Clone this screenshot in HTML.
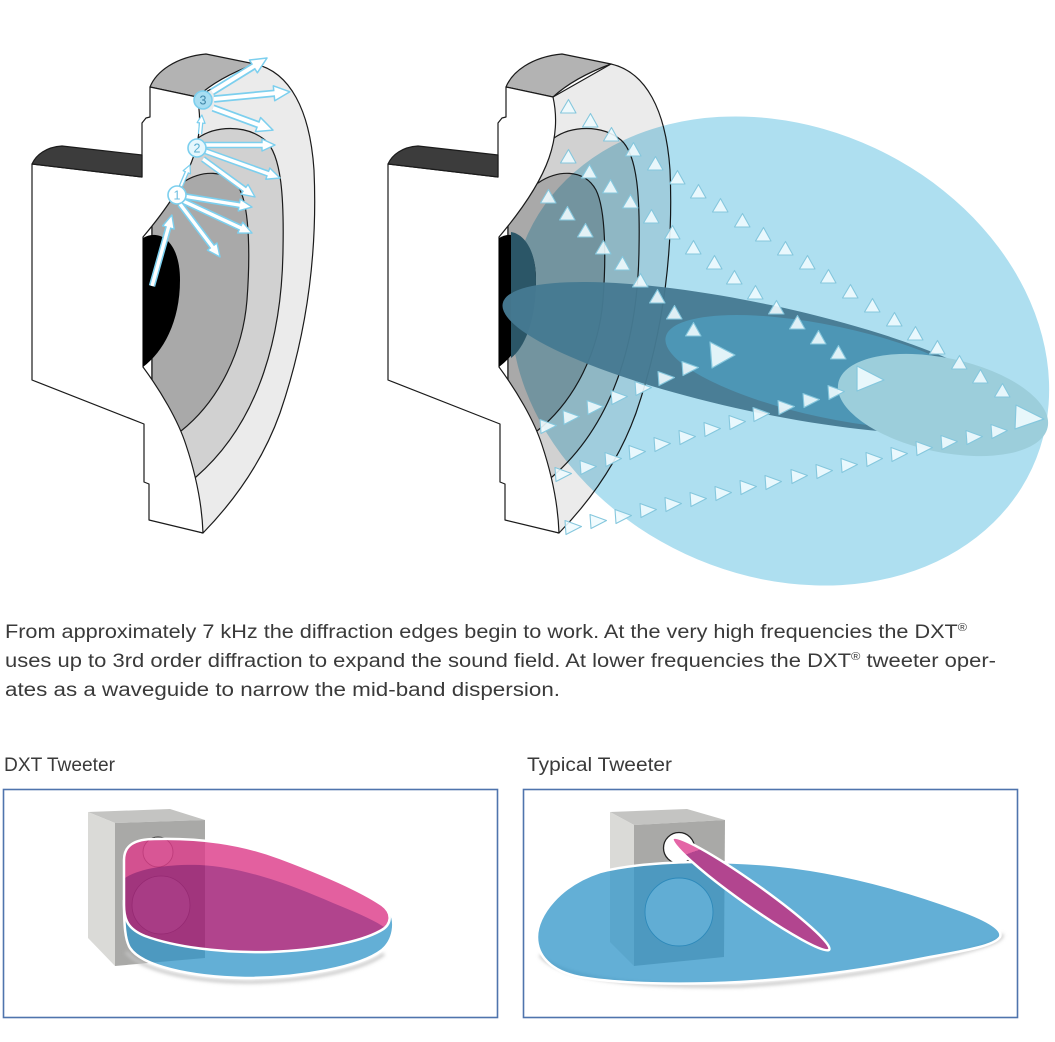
<!DOCTYPE html>
<html><head><meta charset="utf-8">
<style>
html,body{margin:0;padding:0;background:#fff;}
svg{display:block}
.ab{stroke:#7ccfee;stroke-linecap:butt}
.aw{stroke:#fff;stroke-linecap:butt}
.t{font-family:"Liberation Sans",Arial,sans-serif;fill:#3a3a3a}
</style></head>
<body>
<svg width="1055" height="1042" viewBox="0 0 1055 1042" xmlns="http://www.w3.org/2000/svg">
<defs>
<marker id="hL" viewBox="0 0 18 18" markerWidth="18" markerHeight="18" refX="1" refY="9" orient="auto" markerUnits="userSpaceOnUse"><path d="M1,1.5 L17,9 L1,16.5 Z" fill="#fff" stroke="#7ccfee" stroke-width="1.5" stroke-linejoin="round"/></marker>
<marker id="hM" viewBox="0 0 15 15" markerWidth="15" markerHeight="15" refX="1" refY="7.5" orient="auto" markerUnits="userSpaceOnUse"><path d="M1,1.5 L14,7.5 L1,13.5 Z" fill="#fff" stroke="#7ccfee" stroke-width="1.4" stroke-linejoin="round"/></marker>
<marker id="hS" viewBox="0 0 10 10" markerWidth="10" markerHeight="10" refX="1" refY="5" orient="auto" markerUnits="userSpaceOnUse"><path d="M1,1 L9,5 L1,9 Z" fill="#fff" stroke="#7ccfee" stroke-width="1.2" stroke-linejoin="round"/></marker>
<polygon id="tu" points="0.5,-7.5 8,6 -7.5,6" fill="#effbfe" fill-opacity="0.9" stroke="#85c7dd" stroke-width="1.1" stroke-linejoin="round"/>
<polygon id="tr" points="-7,-7.5 9.5,-1.5 -6,6.5" fill="#effbfe" fill-opacity="0.9" stroke="#85c7dd" stroke-width="1.1" stroke-linejoin="round"/>
<g id="tw" stroke="#1b1b1b" stroke-width="1.2" stroke-linejoin="round">
<path d="M197,97 L255,64 C290,72 310,110 314,170 C318,260 305,340 280,413 C265,455 240,495 203,533 L152,518 L152,102 Z" fill="#ebebeb"/>
<path d="M198,138 C215,126 245,124 265,140 C282,155 284,200 283,250 C282,330 262,420 196,477 L152,480 L152,140 Z" fill="#d1d1d1"/>
<path d="M182,183 C200,170 228,168 240,190 C250,210 250,260 247,300 C243,350 220,400 181,431 L152,432 L152,190 Z" fill="#a9a9a9"/>
<path d="M150,87 C156,72 175,57 206,54 L255,64 C228,74 210,85 197,97 Z" fill="#b3b3b3"/>
<path d="M150,87 L197,97 C201,115 201,135 193,158 C186,178 170,205 143,237 L143,367 C160,390 178,420 186,445 C196,475 202,505 203,533 L149,520 L149,484 L144,482 L144,424 L32,380 L32,164 L142,177 L142,123 L146,118 L150,117 Z" fill="#fff"/>
<path d="M32,164 C36,155 46,147 62,146 L142,155 L142,177 Z" fill="#3c3c3c"/>
<path d="M143,238 C160,228 180,242 180,280 C180,322 163,352 143,367 Z" fill="#000" stroke="none"/>
</g>
<linearGradient id="ng" gradientUnits="userSpaceOnUse" x1="674" y1="839" x2="828" y2="949">
<stop offset="0" stop-color="#e465a6"/><stop offset="0.19" stop-color="#e465a6"/><stop offset="0.19" stop-color="#b2458f"/><stop offset="1" stop-color="#b2458f"/>
</linearGradient>
<filter id="bl" x="-10%" y="-50%" width="120%" height="200%"><feGaussianBlur stdDeviation="1.8"/></filter>
</defs>

<rect width="1055" height="1042" fill="#fff"/>

<!-- LEFT TWEETER -->
<use href="#tw"/>

<g fill="none">
<line x1="212" y1="92" x2="253.4" y2="66.4" class="ab" stroke-width="7.5" marker-end="url(#hL)"/><line x1="212" y1="92" x2="256" y2="64.8" class="aw" stroke-width="4"/>
<line x1="214" y1="99" x2="274" y2="93.3" class="ab" stroke-width="7.5" marker-end="url(#hL)"/><line x1="214" y1="99" x2="277" y2="93" class="aw" stroke-width="4"/>
<line x1="213" y1="108" x2="258" y2="124.6" class="ab" stroke-width="7.5" marker-end="url(#hL)"/><line x1="213" y1="108" x2="260.8" y2="125.6" class="aw" stroke-width="4"/>
<line x1="205" y1="145" x2="262" y2="145" class="ab" stroke-width="6.5" marker-end="url(#hM)"/><line x1="205" y1="145" x2="265" y2="145" class="aw" stroke-width="3.4"/>
<line x1="205" y1="151" x2="267.8" y2="173.6" class="ab" stroke-width="6.5" marker-end="url(#hM)"/><line x1="205" y1="151" x2="270.6" y2="174.6" class="aw" stroke-width="3.4"/>
<line x1="203" y1="159" x2="244.5" y2="189.3" class="ab" stroke-width="6.5" marker-end="url(#hM)"/><line x1="203" y1="159" x2="246.9" y2="191.1" class="aw" stroke-width="3.4"/>
<line x1="183" y1="196" x2="239.2" y2="205" class="ab" stroke-width="6.5" marker-end="url(#hM)"/><line x1="183" y1="196" x2="242.2" y2="205.5" class="aw" stroke-width="3.4"/>
<line x1="183" y1="201" x2="240.2" y2="227.6" class="ab" stroke-width="6.5" marker-end="url(#hM)"/><line x1="183" y1="201" x2="242.9" y2="228.9" class="aw" stroke-width="3.4"/>
<line x1="180" y1="204" x2="212.2" y2="246.6" class="ab" stroke-width="6.5" marker-end="url(#hM)"/><line x1="180" y1="204" x2="214" y2="249" class="aw" stroke-width="3.4"/>
<line x1="152" y1="286" x2="168.4" y2="227.5" class="ab" stroke-width="6.5" marker-end="url(#hM)"/><line x1="152" y1="286" x2="169.2" y2="224.6" class="aw" stroke-width="3.4"/>
<line x1="181" y1="186" x2="186.8" y2="172.3" class="ab" stroke-width="4.5" marker-end="url(#hS)"/><line x1="181" y1="186" x2="187.6" y2="170.5" class="aw" stroke-width="2"/>
<line x1="200" y1="134" x2="201.1" y2="123" class="ab" stroke-width="4.5" marker-end="url(#hS)"/><line x1="200" y1="134" x2="201.4" y2="120" class="aw" stroke-width="2"/>
</g>
<g font-family="Liberation Sans, Arial, sans-serif" font-size="12.5" text-anchor="middle">
<circle cx="203" cy="100" r="9" fill="#a8def2" stroke="#7ccfee" stroke-width="1.6"/><text x="203" y="104.5" fill="#3f86a8">3</text>
<circle cx="197" cy="148" r="9" fill="#e6f7fd" stroke="#7ccfee" stroke-width="1.6"/><text x="197" y="152.5" fill="#5aaed0">2</text>
<circle cx="177" cy="195" r="9" fill="#fff" stroke="#7ccfee" stroke-width="1.6"/><text x="177" y="199.5" fill="#6bbde0">1</text>
</g>

<!-- RIGHT TWEETER -->
<use href="#tw" x="356"/>
<ellipse cx="780" cy="351" rx="278" ry="224" transform="rotate(25 780 351)" fill="#aedff0" style="mix-blend-mode:multiply"/>
<path d="M511,232 C524,234 536,250 536,280 C536,322 524,348 511,358 Z" fill="#2b5667"/>
<ellipse cx="760" cy="358" rx="263" ry="54" transform="rotate(12 760 358)" fill="#467a92" opacity="0.96"/>
<ellipse cx="830" cy="372" rx="168" ry="46" transform="rotate(12 830 372)" fill="#4d96b5"/>
<ellipse cx="943" cy="405" rx="107" ry="47" transform="rotate(12 943 405)" fill="#9ccedb"/>

<use href="#tu" x="568" y="107"/><use href="#tu" x="590" y="121"/><use href="#tu" x="611" y="135"/><use href="#tu" x="633" y="150"/><use href="#tu" x="655" y="164"/><use href="#tu" x="677" y="178"/><use href="#tu" x="698" y="192"/><use href="#tu" x="720" y="206"/><use href="#tu" x="742" y="221"/><use href="#tu" x="763" y="235"/><use href="#tu" x="785" y="249"/><use href="#tu" x="807" y="263"/><use href="#tu" x="828" y="277"/><use href="#tu" x="850" y="292"/><use href="#tu" x="872" y="306"/><use href="#tu" x="894" y="320"/><use href="#tu" x="915" y="334"/><use href="#tu" x="937" y="348"/><use href="#tu" x="959" y="363"/><use href="#tu" x="980" y="377"/><use href="#tu" x="1002" y="391"/>
<use href="#tu" x="568" y="157"/><use href="#tu" x="589" y="172"/><use href="#tu" x="610" y="187"/><use href="#tu" x="630" y="202"/><use href="#tu" x="651" y="217"/><use href="#tu" x="672" y="233"/><use href="#tu" x="693" y="248"/><use href="#tu" x="714" y="263"/><use href="#tu" x="734" y="278"/><use href="#tu" x="755" y="293"/><use href="#tu" x="776" y="308"/><use href="#tu" x="797" y="323"/><use href="#tu" x="818" y="338"/><use href="#tu" x="838" y="353"/>
<use href="#tu" x="548" y="197"/><use href="#tu" x="567" y="214"/><use href="#tu" x="585" y="231"/><use href="#tu" x="603" y="248"/><use href="#tu" x="622" y="264"/><use href="#tu" x="640" y="281"/><use href="#tu" x="657" y="297"/><use href="#tu" x="674" y="313"/><use href="#tu" x="693" y="330"/>
<use href="#tr" x="562" y="475"/><use href="#tr" x="587" y="468"/><use href="#tr" x="612" y="460"/><use href="#tr" x="636" y="453"/><use href="#tr" x="661" y="445"/><use href="#tr" x="686" y="438"/><use href="#tr" x="711" y="430"/><use href="#tr" x="736" y="423"/><use href="#tr" x="760" y="415"/><use href="#tr" x="785" y="408"/><use href="#tr" x="810" y="401"/><use href="#tr" x="835" y="393"/>
<use href="#tr" x="547" y="427"/><use href="#tr" x="570" y="418"/><use href="#tr" x="594" y="408"/><use href="#tr" x="618" y="398"/><use href="#tr" x="642" y="389"/><use href="#tr" x="665" y="379"/><use href="#tr" x="689" y="369"/>
<use href="#tr" x="572" y="528"/><use href="#tr" x="597" y="522"/><use href="#tr" x="622" y="517"/><use href="#tr" x="647" y="511"/><use href="#tr" x="672" y="505"/><use href="#tr" x="697" y="500"/><use href="#tr" x="722" y="494"/><use href="#tr" x="747" y="488"/><use href="#tr" x="772" y="483"/><use href="#tr" x="798" y="477"/><use href="#tr" x="823" y="472"/><use href="#tr" x="848" y="466"/><use href="#tr" x="873" y="460"/><use href="#tr" x="898" y="455"/><use href="#tr" x="923" y="449"/><use href="#tr" x="948" y="443"/><use href="#tr" x="973" y="438"/><use href="#tr" x="998" y="432"/>
<g fill="#effbfe" fill-opacity="0.92" stroke="#85c7dd" stroke-width="1.2" stroke-linejoin="round">
<polygon points="710,342 735,355 712,368"/>
<polygon points="857,366 884,380 857,391"/>
<polygon points="1016,405 1044,419 1015,429"/>
</g>

<!-- PARAGRAPH -->
<text class="t" x="5" y="638" font-size="19" textLength="962" lengthAdjust="spacingAndGlyphs">From approximately 7 kHz the diffraction edges begin to work. At the very high frequencies the DXT<tspan font-size="11" dy="-7">®</tspan></text>
<text class="t" x="5" y="667" font-size="19" textLength="991" lengthAdjust="spacingAndGlyphs">uses up to 3rd order diffraction to expand the sound field. At lower frequencies the DXT<tspan font-size="11" dy="-7">®</tspan><tspan dy="7"> tweeter oper-</tspan></text>
<text class="t" x="5" y="696" font-size="19" textLength="555" lengthAdjust="spacingAndGlyphs">ates as a waveguide to narrow the mid-band dispersion.</text>

<text class="t" x="4" y="771" font-size="19" textLength="111" lengthAdjust="spacingAndGlyphs">DXT Tweeter</text>
<text class="t" x="527" y="771" font-size="19" textLength="145" lengthAdjust="spacingAndGlyphs">Typical Tweeter</text>

<!-- BOXES -->
<rect x="3.5" y="789.5" width="494" height="228" fill="none" stroke="#4f74ad" stroke-width="1.6"/>
<rect x="523.5" y="789.5" width="494" height="228" fill="none" stroke="#4f74ad" stroke-width="1.6"/>

<!-- DXT box -->
<polygon points="88,812 170,809 205,820 115,823" fill="#c4c4c2"/>
<polygon points="88,812 115,823 115,966 88,938" fill="#dadad7"/>
<polygon points="115,823 205,820 205,958 115,966" fill="#a9a9a7"/>
<circle cx="158" cy="852" r="15" fill="#c6c6c4" stroke="#333" stroke-width="0.9"/>
<circle cx="161" cy="905" r="29" fill="#d2d2d0" stroke="#666" stroke-width="0.8"/>
<path d="M126,952 C142,970 190,981 245,982 C300,982 360,971 384,954" fill="none" stroke="#c4c4c4" stroke-width="3" filter="url(#bl)"/>
<path d="M124,905 C124,920 128,929 145,936 C175,947 220,953 270,952 C320,950 360,942 380,931 C390,925 392,918 390,912 C396,922 394,940 382,950 C360,967 300,978 245,978 C190,977 142,966 130,948 C125,940 124,925 124,905 Z" fill="#2f94c8" opacity="0.75"/>
<path d="M124,900 C124,925 125,940 130,948 C142,966 190,977 245,978 C300,978 360,967 382,950 C394,940 396,922 390,912" fill="none" stroke="#fff" stroke-width="2.5"/>
<g opacity="0.82">
<path d="M124,860 C124,845 135,839 155,839 C200,838 240,843 280,858 C320,873 360,890 382,905 C393,913 392,925 380,931 C360,942 320,950 270,952 C220,953 175,947 145,936 C128,929 124,920 124,905 Z" fill="#dd3e8b"/>
<path d="M125,878 C140,868 170,864 200,865 C240,867 285,882 333,903 C355,912 372,919 384,927 C360,942 320,950 270,952 C220,953 175,947 145,936 C128,929 125,920 125,905 Z" fill="#a01c75"/>
</g>
<path d="M124,860 C124,845 135,839 155,839 C200,838 240,843 280,858 C320,873 360,890 382,905 C393,913 392,925 380,931 C360,942 320,950 270,952 C220,953 175,947 145,936 C128,929 124,920 124,905 Z" fill="none" stroke="#fff" stroke-width="2.5"/>

<!-- Typical box -->
<polygon points="610,812 687,809 725,820 634,825" fill="#c4c4c2"/>
<polygon points="610,812 634,825 634,966 610,942" fill="#dadad7"/>
<polygon points="634,825 725,820 724,957 634,966" fill="#a9a9a7"/>
<circle cx="679" cy="912" r="34" fill="#f6f6f6" stroke="#2b6a90" stroke-width="0.9"/>
<circle cx="679" cy="848" r="15.5" fill="#fff" stroke="#222" stroke-width="1.3"/>
<path d="M540,955 C555,975 620,988 740,986 C820,981 900,969 960,953 C990,945 1004,940 1002,934" fill="none" stroke="#c4c4c4" stroke-width="3" filter="url(#bl)"/>
<path d="M537,937 C537,915 560,885 600,872 C640,862 700,860 760,864 C830,869 900,888 960,910 C990,921 1003,930 1000,937 C995,945 970,950 930,957 C880,967 820,977 740,982 C680,985 620,984 580,977 C550,971 537,955 537,937 Z" fill="#2f94c8" opacity="0.75"/>
<path d="M537,937 C537,915 560,885 600,872 C640,862 700,860 760,864 C830,869 900,888 960,910 C990,921 1003,930 1000,937 C995,945 970,950 930,957 C880,967 820,977 740,982 C680,985 620,984 580,977 C550,971 537,955 537,937 Z" fill="none" stroke="#fff" stroke-width="2.5"/>
<ellipse cx="751" cy="894" rx="96" ry="11" transform="rotate(35.4 751 894)" fill="url(#ng)" stroke="#fff" stroke-width="2.5"/>
</svg>
</body></html>
